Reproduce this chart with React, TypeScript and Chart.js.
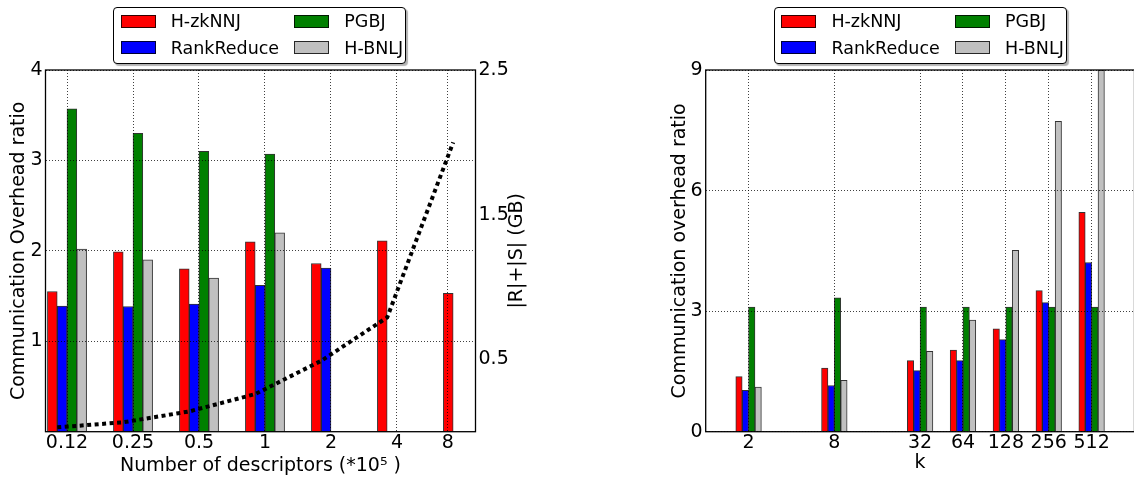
import React, { useEffect, useRef } from 'react';
import { Chart, registerables } from 'chart.js';

Chart.register(...registerables);

// ---------- shared series ----------
const SERIES_NAMES = ['H-zkNNJ', 'RankReduce', 'PGBJ', 'H-BNLJ'];
const SERIES_COLORS = ['#ff0000', '#0000ff', '#008000', '#c0c0c0'];

// ---------- left panel: number of descriptors ----------
const DESC_LABELS = ['0.12', '0.25', '0.5', '1', '2', '4', '8'];
const DESC_GROUP_POS = [0, 1, 2, 3, 4, 5, 6];
const DESC_TICK_POS = [0, 1, 2, 3, 4, 5, 5.77];
const DESC_HZKNNJ = [1.55, 1.99, 1.8, 2.1, 1.86, 2.11, 1.53];
const DESC_RANKREDUCE = [1.39, 1.385, 1.41, 1.62, 1.81, null, null];
const DESC_PGBJ = [3.57, 3.3, 3.1, 3.07, null, null, null];
const DESC_HBNLJ = [2.02, 1.9, 1.7, 2.2, null, null, null];
const DESC_SIZE_GB = [0.03, 0.065, 0.14, 0.26, 0.49, 0.79, 2.0];
const DESC_Y_TICKS = [1, 2, 3, 4];
const DESC_Y1_TICKS = [0.5, 1.5, 2.5];

// ---------- right panel: k ----------
const K_VALUES = [2, 8, 32, 64, 128, 256, 512];
const K_HZKNNJ = [1.37, 1.58, 1.77, 2.03, 2.56, 3.51, 5.46];
const K_RANKREDUCE = [1.03, 1.15, 1.52, 1.77, 2.29, 3.21, 4.21];
const K_PGBJ = [3.1, 3.33, 3.1, 3.1, 3.1, 3.1, 3.1];
const K_HBNLJ = [1.11, 1.28, 2.0, 2.78, 4.51, 7.72, 9.0];
const K_Y_TICKS = [0, 3, 6, 9];

const FONT = 'DejaVu Sans';
const GRID = {
  color: 'rgba(0,0,0,0.75)',
  lineWidth: 1,
  drawTicks: false,
  offset: false,
  z: 1,
};
const BORDER = { display: false, dash: [1, 2] };

const framePlugin = {
  id: 'frame',
  afterDraw(chart: any) {
    const { ctx, chartArea: a } = chart;
    ctx.save();
    ctx.strokeStyle = '#000';
    ctx.lineWidth = 1.3;
    ctx.strokeRect(a.left, a.top, a.right - a.left, a.bottom - a.top);
    ctx.restore();
  },
};

const rightTitlePlugin = {
  id: 'rightTitle',
  afterDraw(chart: any) {
    const s = chart.scales.y1;
    if (!s) return;
    const { ctx } = chart;
    ctx.save();
    ctx.translate(s.left + 42, (chart.chartArea.top + chart.chartArea.bottom) / 2);
    ctx.rotate(-Math.PI / 2);
    ctx.font = `19px "${FONT}"`;
    ctx.textAlign = 'center';
    ctx.textBaseline = 'middle';
    ctx.fillStyle = '#000';
    ctx.fillText('|R|+|S| (GB)', 0, 0);
    ctx.restore();
  },
};

function barSet(label: string, color: string, xs: number[], ys: (number | null)[], thickness: number) {
  return {
    type: 'bar' as const,
    label,
    data: ys.map((y, i) => ({ x: xs[i], y })),
    backgroundColor: color,
    borderColor: 'rgba(0,0,0,0.8)',
    borderWidth: 1,
    barThickness: thickness,
    yAxisID: 'y',
  };
}

function leftConfig(): any {
  const t = 9.8;
  const LINE_SHIFT = -0.148;
  const ySeries = [DESC_HZKNNJ, DESC_RANKREDUCE, DESC_PGBJ, DESC_HBNLJ];
  return {
    type: 'bar',
    data: {
      datasets: [
        {
          type: 'line',
          label: '|R|+|S|',
          data: DESC_SIZE_GB.map((y, i) => ({ x: DESC_GROUP_POS[i] + LINE_SHIFT, y })),
          yAxisID: 'y1',
          borderColor: '#000',
          borderWidth: 4,
          borderDash: [4, 3.5],
          borderCapStyle: 'butt',
          pointRadius: 0,
          fill: false,
          tension: 0,
        },
        ...SERIES_NAMES.map((n, i) => barSet(n, SERIES_COLORS[i], DESC_GROUP_POS, ySeries[i], t)),
      ],
    },
    options: {
      responsive: false,
      animation: false,
      devicePixelRatio: 1,
      layout: { padding: { top: 70, left: 0, right: 0, bottom: 0 } },
      plugins: { legend: { display: false }, tooltip: { enabled: false } },
      scales: {
        x: {
          type: 'linear',
          min: -0.326,
          max: 6.19,
          offset: false,
          grid: GRID,
          border: BORDER,
          afterBuildTicks: (s: any) => {
            s.ticks = DESC_TICK_POS.map((v) => ({ value: v }));
          },
          afterFit: (s: any) => {
            s.height = 49.3;
          },
          ticks: {
            autoSkip: false,
            maxRotation: 0,
            padding: 0,
            color: '#000',
            font: { family: FONT, size: 19 },
            callback: (_v: any, i: number) => DESC_LABELS[i],
          },
          title: {
            display: true,
            text: 'Number of descriptors (*10\u2075 )',
            color: '#000',
            font: { family: FONT, size: 19, lineHeight: 1.2 },
            padding: { top: 0, bottom: 3.2 },
          },
        },
        y: {
          type: 'linear',
          position: 'left',
          min: 0,
          max: 4,
          grid: GRID,
          border: BORDER,
          afterBuildTicks: (s: any) => {
            s.ticks = DESC_Y_TICKS.map((v) => ({ value: v }));
          },
          afterFit: (s: any) => {
            s.width = 45.5;
          },
          ticks: {
            padding: 3,
            color: '#000',
            font: { family: FONT, size: 19 },
            callback: (v: any) => String(v),
          },
          title: {
            display: true,
            text: 'Communication Overhead ratio',
            color: '#000',
            font: { family: FONT, size: 19, lineHeight: 1.2 },
            padding: { top: 7.6, bottom: 0 },
          },
        },
        y1: {
          type: 'linear',
          position: 'right',
          min: 0,
          max: 2.5,
          grid: { display: false, drawTicks: false },
          border: { display: false },
          afterBuildTicks: (s: any) => {
            s.ticks = DESC_Y1_TICKS.map((v) => ({ value: v }));
          },
          afterFit: (s: any) => {
            s.width = 600 - 475.5;
          },
          ticks: {
            padding: 3,
            color: '#000',
            font: { family: FONT, size: 19 },
            callback: (v: any) => String(v),
          },
        },
      },
    },
    plugins: [framePlugin, rightTitlePlugin],
  };
}

function rightConfig(): any {
  const t = 6.4;
  const ySeries = [K_HZKNNJ, K_RANKREDUCE, K_PGBJ, K_HBNLJ];
  return {
    type: 'bar',
    data: {
      datasets: SERIES_NAMES.map((n, i) => barSet(n, SERIES_COLORS[i], K_VALUES, ySeries[i], t)),
    },
    options: {
      responsive: false,
      animation: false,
      devicePixelRatio: 1,
      layout: { padding: { top: 70, left: 0, right: 545 - 534.5, bottom: 0 } },
      plugins: { legend: { display: false }, tooltip: { enabled: false } },
      scales: {
        x: {
          type: 'logarithmic',
          min: 1,
          max: 1024,
          offset: false,
          grid: GRID,
          border: BORDER,
          afterBuildTicks: (s: any) => {
            s.ticks = K_VALUES.map((v) => ({ value: v }));
          },
          afterFit: (s: any) => {
            s.height = 49.3;
          },
          ticks: {
            autoSkip: false,
            maxRotation: 0,
            padding: 0,
            color: '#000',
            font: { family: FONT, size: 19 },
            callback: (v: any) => String(v),
          },
          title: {
            display: true,
            text: 'k',
            color: '#000',
            font: { family: FONT, size: 19, lineHeight: 1.2 },
            padding: { top: 0, bottom: 6.2 },
          },
        },
        y: {
          type: 'linear',
          position: 'left',
          min: 0,
          max: 9,
          grid: GRID,
          border: BORDER,
          afterBuildTicks: (s: any) => {
            s.ticks = K_Y_TICKS.map((v) => ({ value: v }));
          },
          afterFit: (s: any) => {
            s.width = 105.7;
          },
          ticks: {
            padding: 3,
            color: '#000',
            font: { family: FONT, size: 19 },
            callback: (v: any) => String(v),
          },
          title: {
            display: true,
            text: 'Communication overhead ratio',
            color: '#000',
            font: { family: FONT, size: 19, lineHeight: 1.2 },
            padding: { top: 68.6, bottom: 0 },
          },
        },
      },
    },
    plugins: [framePlugin],
  };
}

function Legend({ left, top }: { left: number; top: number }) {
  return (
    <div
      style={{
        position: 'absolute',
        left,
        top,
        width: 293,
        height: 57,
        boxSizing: 'border-box',
        border: '1px solid #000',
        borderRadius: 4,
        background: '#fff',
        boxShadow: '2px 2px 1px rgba(0,0,0,0.3)',
        fontFamily: FONT,
        fontSize: 17.5,
        color: '#000',
      }}
    >
      {SERIES_NAMES.map((name, i) => {
        const col = Math.floor(i / 2);
        const row = i % 2;
        const sx = col === 0 ? 6.4 : 180;
        const tx = col === 0 ? 56.4 : 230;
        const sy = row === 0 ? 6.7 : 33.2;
        return (
          <React.Fragment key={name}>
            <div
              style={{
                position: 'absolute',
                left: sx,
                top: sy,
                width: 35,
                height: 13,
                boxSizing: 'border-box',
                border: '1px solid rgba(0,0,0,0.8)',
                background: SERIES_COLORS[i],
              }}
            />
            <div
              style={{
                position: 'absolute',
                left: tx,
                top: sy + 6.5 - 11,
                height: 22,
                lineHeight: '22px',
                whiteSpace: 'nowrap',
              }}
            >
              {name}
            </div>
          </React.Fragment>
        );
      })}
    </div>
  );
}

export default function App() {
  const leftRef = useRef<HTMLCanvasElement>(null);
  const rightRef = useRef<HTMLCanvasElement>(null);
  useEffect(() => {
    const c1 = new Chart(leftRef.current as HTMLCanvasElement, leftConfig());
    const c2 = new Chart(rightRef.current as HTMLCanvasElement, rightConfig());
    return () => {
      c1.destroy();
      c2.destroy();
    };
  }, []);
  return (
    <div
      style={{
        position: 'absolute',
        left: 0,
        top: 0,
        width: 1134,
        height: 481,
        overflow: 'hidden',
        background: '#fff',
      }}
    >
      <canvas
        ref={leftRef}
        width={600}
        height={481}
        style={{ position: 'absolute', left: 0, top: 0, width: 600, height: 481 }}
      />
      <canvas
        ref={rightRef}
        width={545}
        height={481}
        style={{ position: 'absolute', left: 600, top: 0, width: 545, height: 481 }}
      />
      <Legend left={113.3} top={7.3} />
      <Legend left={774} top={7.3} />
    </div>
  );
}
